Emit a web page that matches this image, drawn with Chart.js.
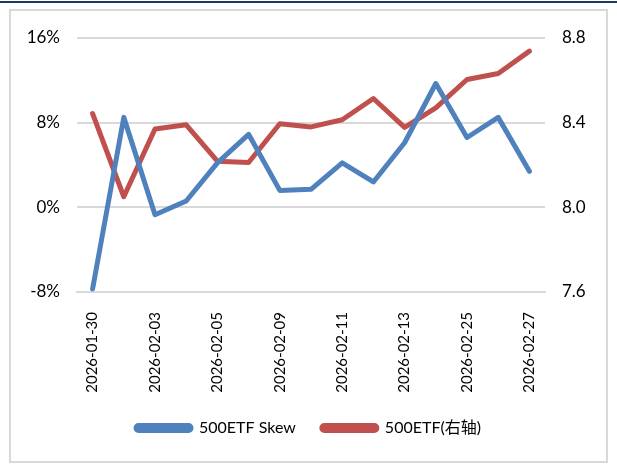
<!DOCTYPE html>
<html>
<head>
<meta charset="utf-8">
<script src="https://cdn.jsdelivr.net/npm/chart.js@4/dist/chart.umd.min.js"></script>
<style>
  html, body { margin: 0; padding: 0; background: #fff; }
  #wrap { position: relative; width: 617px; height: 468px; }
</style>
</head>
<body>
<div id="wrap"><canvas id="grafico" width="617" height="468"></canvas></div>
<script>
// ---------------- DADOS ----------------
const datas = [
  "2026-01-30", "2026-02-02", "2026-02-03", "2026-02-04", "2026-02-05",
  "2026-02-06", "2026-02-09", "2026-02-10", "2026-02-11", "2026-02-12",
  "2026-02-13", "2026-02-24", "2026-02-25", "2026-02-26", "2026-02-27"
];
// skew em %
const skew = [-7.7, 8.5, -0.7, 0.6, 4.2, 6.9, 1.6, 1.7, 4.2, 2.4, 6.1, 11.7, 6.6, 8.5, 3.4];
// preço do 500ETF (eixo direito)
const etf = [8.443, 8.05, 8.37, 8.39, 8.218, 8.212, 8.395, 8.38, 8.414, 8.514, 8.378, 8.47, 8.604, 8.632, 8.738];

const ticksEsquerda = [-8, 0, 8, 16];
const ticksDireita = [7.6, 8.0, 8.4, 8.8];

const fonte = "Lato, 'Noto Sans CJK SC', sans-serif";

// moldura: linha azul no topo + borda cinza
const moldura = {
  id: "moldura",
  beforeDraw(chart) {
    const c = chart.ctx;
    c.save();
    c.fillStyle = "#fff";
    c.fillRect(0, 0, chart.width, chart.height);
    c.fillStyle = "#1f3a60";
    c.fillRect(0, 1, chart.width, 2);
    c.strokeStyle = "#d9d9d9";
    c.lineWidth = 2;
    c.strokeRect(10, 10, 597, 452);
    c.restore();
  }
};

const ctx = document.getElementById("grafico").getContext("2d");
const grafico = new Chart(ctx, {
  type: "line",
  data: {
    labels: datas,
    datasets: [
      {
        label: "500ETF Skew",
        data: skew,
        yAxisID: "y",
        borderColor: "#4f81bd",
        backgroundColor: "#4f81bd",
        borderWidth: 5,
        pointRadius: 0,
        tension: 0,
        borderJoinStyle: "round",
        borderCapStyle: "round"
      },
      {
        label: "500ETF(右轴)",
        data: etf,
        yAxisID: "y1",
        borderColor: "#c0504d",
        backgroundColor: "#c0504d",
        borderWidth: 5,
        pointRadius: 0,
        tension: 0,
        borderJoinStyle: "round",
        borderCapStyle: "round"
      }
    ]
  },
  options: {
    responsive: false,
    animation: false,
    layout: { padding: { top: 38, bottom: 22, left: 0, right: 0 } },
    scales: {
      x: {
        offset: true,
        grid: { display: false },
        border: { display: true, color: "#d9d9d9", width: 2 },
        ticks: {
          autoSkip: false,
          minRotation: 90,
          maxRotation: 90,
          padding: 12,
          color: "#000",
          font: { family: fonte, size: 15 },
          callback: (v, i) => (i % 2 === 0 ? datas[i] : "")
        },
        afterFit: s => { s.height = 102; }
      },
      y: {
        position: "left",
        min: -8,
        max: 16,
        afterBuildTicks: s => { s.ticks = ticksEsquerda.map(v => ({ value: v })); },
        grid: { color: "#d9d9d9", lineWidth: 2, drawTicks: false },
        border: { display: false },
        ticks: {
          padding: 17,
          color: "#000",
          font: { family: fonte, size: 17 },
          callback: v => v + "%"
        },
        afterFit: s => { s.width = 77; }
      },
      y1: {
        position: "right",
        min: 7.6,
        max: 8.8,
        afterBuildTicks: s => { s.ticks = ticksDireita.map(v => ({ value: v })); },
        grid: { display: false, drawTicks: false },
        border: { display: false },
        ticks: {
          padding: 17,
          color: "#000",
          font: { family: fonte, size: 17 },
          callback: v => v.toFixed(1)
        },
        afterFit: s => { s.width = 72; }
      }
    },
    plugins: {
      legend: {
        position: "bottom",
        labels: {
          boxWidth: 55,
          boxHeight: 5,
          padding: 26,
          color: "#000",
          useBorderRadius: true,
          borderRadius: 2.5,
          font: { family: fonte, size: 16 }
        }
      },
      tooltip: { enabled: false }
    }
  },
  plugins: [moldura]
});
</script>
</body>
</html>
